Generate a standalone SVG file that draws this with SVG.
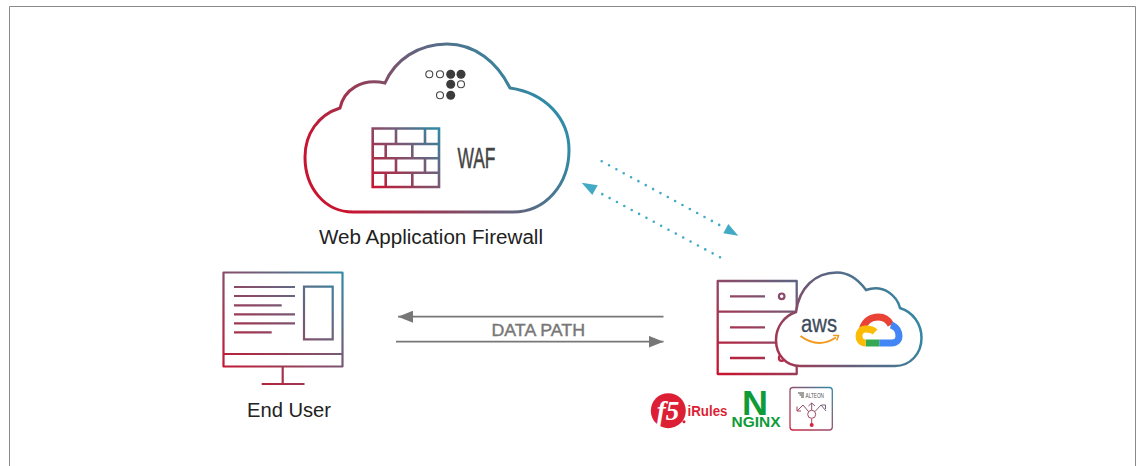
<svg xmlns="http://www.w3.org/2000/svg" width="1136" height="466" viewBox="0 0 1136 466">
<style>
.t{font-family:"Liberation Sans",Arial,sans-serif;fill:#222}
.dot{fill:none;stroke:#42aac4;stroke-width:2.600;stroke-linecap:round;stroke-dasharray:0 8.35}
.gray{stroke:#777;stroke-width:1.800;fill:none}
</style>
<defs>
<linearGradient id="gWaf" gradientUnits="userSpaceOnUse" x1="345" y1="200" x2="535" y2="85"><stop offset="0" stop-color="#c8142f"/><stop offset=".5" stop-color="#75566f"/><stop offset="1" stop-color="#2f8ba6"/></linearGradient>
<linearGradient id="gWall" gradientUnits="userSpaceOnUse" x1="372" y1="187" x2="439" y2="128"><stop offset="0" stop-color="#c8142f"/><stop offset=".55" stop-color="#7d5570"/><stop offset="1" stop-color="#2f8ba6"/></linearGradient>
<linearGradient id="gMon" gradientUnits="userSpaceOnUse" x1="235" y1="385" x2="343" y2="272"><stop offset="0" stop-color="#c8142f"/><stop offset=".55" stop-color="#7d5570"/><stop offset="1" stop-color="#2f8ba6"/></linearGradient>
<linearGradient id="gSrv" gradientUnits="userSpaceOnUse" x1="718" y1="372" x2="797" y2="282"><stop offset="0" stop-color="#c8142f"/><stop offset=".6" stop-color="#8c4a68"/><stop offset="1" stop-color="#5e6480"/></linearGradient>
<linearGradient id="gCl" gradientUnits="userSpaceOnUse" x1="780" y1="360" x2="915" y2="300"><stop offset="0" stop-color="#a8344f"/><stop offset=".45" stop-color="#62607c"/><stop offset="1" stop-color="#2f8ba6"/></linearGradient>
<linearGradient id="gAlt" gradientUnits="userSpaceOnUse" x1="790" y1="430" x2="832" y2="387"><stop offset="0" stop-color="#d0263f"/><stop offset=".55" stop-color="#8c5470"/><stop offset="1" stop-color="#2f8ba6"/></linearGradient>
<marker id="aGray" markerUnits="userSpaceOnUse" markerWidth="15" markerHeight="12" refX="15" refY="6" orient="auto"><path d="M0 0L15 6L0 12Z" fill="#777"/></marker>
</defs>
<g id="frame"><path d="M9.5 466V6.500H1135.500V466" fill="none" stroke="#8a8a8a" stroke-width="1"/></g>

<g id="connectors">
<path class="gray" d="M663.500 316.700H398" marker-end="url(#aGray)"/>
<path class="gray" d="M396 341.700H663.500" marker-end="url(#aGray)"/>
<path class="dot" d="M601.700 161.300L724 227.500"/>
<path d="M738.300 235.700L728.300 224L723.300 233.300Z" fill="#42aac4"/>
<path class="dot" d="M720 257.300L596 190.800"/>
<path d="M581.700 182.700L597.700 185.300L592.300 195Z" fill="#42aac4"/>
</g>

<g id="waf">
<path d="M353 212L513 212C546 212 569 184 569 150C569 118 545 93 510 88C497 62 475 44 447 44C418 44 395 60 385 83C361 78 344 90 340 108C318 115 305 134 305 157C305 188 325 212 353 212Z" fill="#fff" stroke="url(#gWaf)" stroke-width="3"/>
<g fill="#fff" stroke="#444" stroke-width="1.100">
<circle cx="429.300" cy="74.300" r="3.500"/><circle cx="440" cy="74.300" r="3.500"/><circle cx="461" cy="84.300" r="3.500"/><circle cx="440" cy="95.300" r="3.500"/>
</g>
<g fill="#3c3c3c">
<circle cx="450.700" cy="74.300" r="4.500"/><circle cx="461" cy="74.300" r="4.500"/><circle cx="450.700" cy="84.300" r="4.500"/><circle cx="450.700" cy="95.300" r="4.500"/>
</g>
<path d="M372.700 128.500H439V187H372.700ZM372.700 144H439M372.700 158.200H439M372.700 172.700H439M396 128.500V144M425 128.500V144M385.700 144V158.200M412.300 144V158.200M396 158.200V172.700M425 158.200V172.700M385.700 172.700V187M412.300 172.700V187" fill="none" stroke="url(#gWall)" stroke-width="2.600"/>
<text class="t" x="457.500" y="168" font-size="29" textLength="38" lengthAdjust="spacingAndGlyphs" style="fill:#444;stroke:#444;stroke-width:.5">WAF</text>
<text class="t" x="319" y="244" font-size="20" textLength="224" lengthAdjust="spacingAndGlyphs">Web Application Firewall</text>
</g>

<g id="end-user">
<path d="M223.500 272.500H342.500V366.500H223.500ZM223.500 354H342.500M282.700 366.500V384M261.700 384H304.500" fill="none" stroke="url(#gMon)" stroke-width="2.200" stroke-linejoin="round"/>
<path d="M234 287H295M234 296H295M234 305.300H281.700M234 314.300H295M234 323.300H295M234 332.300H271.700M304 286.700H332.700V339.300H304Z" fill="none" stroke="url(#gMon)" stroke-width="2.200"/>
<text class="t" x="247" y="417" font-size="20" textLength="84" lengthAdjust="spacingAndGlyphs">End User</text>
</g>

<g id="data-path-label"><text class="t" x="491.500" y="335.700" font-size="16.500" style="fill:#777;stroke:#777;stroke-width:.4" textLength="93.500" lengthAdjust="spacingAndGlyphs">DATA PATH</text></g>

<g id="server">
<path d="M717.700 281H796.700V374H717.700ZM717.700 311.700H796.700M717.700 342.700H796.700M730 296.300H765M730 327.300H765M730 358H765" fill="none" stroke="url(#gSrv)" stroke-width="2.300" stroke-linejoin="round"/>
<circle cx="781.700" cy="296.300" r="2.800" fill="none" stroke="#8c4a68" stroke-width="2.200"/>
<circle cx="781.700" cy="358" r="2.800" fill="none" stroke="#b8284a" stroke-width="2.200"/>
</g>

<g id="cloud-providers">
<path d="M800 366L895 366C910 366 921.500 354 921.500 338C921.500 324 913 312 900 308C897 296 884 284 866 290C858 279 849 272.500 837 272.500C815 272.500 799 288 796 312C784 316 776 327 776 340C776 355 786 366 800 366Z" fill="#fff" stroke="url(#gCl)" stroke-width="2.500"/>
<text x="801" y="331.700" font-size="23" textLength="36" lengthAdjust="spacingAndGlyphs" style="font-family:'Liberation Sans',Arial,sans-serif;fill:#3d4a5c;stroke:#3d4a5c;stroke-width:.3">aws</text>
<path d="M800.500 336Q818 349 836 337.500" fill="none" stroke="#f29a1f" stroke-width="2"/>
<path d="M833 335.500L838.500 335.500L836.800 340.500" fill="none" stroke="#f29a1f" stroke-width="1.500"/>
<g fill="none" stroke-width="7">
<path d="M862.500 328.500C865 321 871 317 878.300 317C884 317 888.500 320 891 325" stroke="#ea4335"/>
<path d="M891 325C897 327 899 332 899 336C899 340 896 343 891.700 343H879.300" stroke="#4285f4"/>
<path d="M879.300 343H865.700" stroke="#34a853"/>
<path d="M865.700 343C861 343 859 339.500 859 336C859 332 861.500 329 865.700 329C869.500 329 873 330 875 332" stroke="#fbbc04"/>
</g>
</g>

<g id="f5-irules">
<circle cx="668.300" cy="410.700" r="17.500" fill="#dc1f35"/>
<text x="668" y="420" font-size="27" font-weight="bold" font-style="italic" text-anchor="middle" style="font-family:'Liberation Serif',serif;fill:#fff">f5</text>
<circle cx="684" cy="421.700" r="1.500" fill="#dc1f35"/>
<text x="687.500" y="415.700" font-size="14.500" font-weight="bold" textLength="40" lengthAdjust="spacingAndGlyphs" style="font-family:'Liberation Sans',Arial,sans-serif;fill:#dc1f35">iRules</text>
</g>

<g id="nginx">
<text x="742" y="415" font-size="35" font-weight="bold" textLength="26" lengthAdjust="spacingAndGlyphs" style="font-family:'Liberation Sans',Arial,sans-serif;fill:#109b39">N</text>
<text x="731.500" y="427.300" font-size="14.500" font-weight="bold" textLength="49" lengthAdjust="spacingAndGlyphs" style="font-family:'Liberation Sans',Arial,sans-serif;fill:#109b39">NGINX</text>
</g>

<g id="alteon">
<rect x="790" y="387.500" width="42.300" height="42.500" rx="3" fill="#fff" stroke="url(#gAlt)" stroke-width="1.300"/>
<path d="M798 393H804M799.500 395H804M801 397H804" stroke="#444" stroke-width="1" fill="none"/>
<text x="805.500" y="398" font-size="6.500" textLength="18.500" lengthAdjust="spacingAndGlyphs" style="font-family:'Liberation Sans',Arial,sans-serif;fill:#555">ALTEON</text>
<path d="M797 411L803 405L808.500 411.500M811.700 410V403M808.500 406L811.700 403L815 406M815 411.500L821 405L826 411M821.500 405H825.500V409M797 406.500V411H801M811.700 418.500V424" fill="none" stroke="url(#gAlt)" stroke-width="1"/>
<circle cx="811.700" cy="414.300" r="4" fill="none" stroke="url(#gAlt)" stroke-width="1"/>
<circle cx="811.700" cy="425" r="2" fill="#d0263f"/>
</g>
</svg>
